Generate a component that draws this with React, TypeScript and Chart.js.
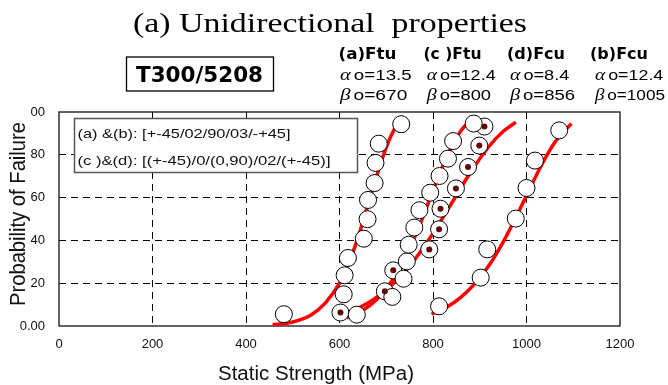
import { useEffect, useRef } from 'react';
import { Chart, registerables } from 'chart.js';

Chart.register(...registerables);

// ---------- data ----------
const xTickLabels = ['0', '200', '400', '600', '800', '1000', '1200'];
const yTickLabels = ['0.00', '20', '40', '60', '80', '00'];

// fitted Weibull curves
const curveA_x = [457, 500, 540, 570, 600, 620, 640, 660, 680, 700, 720, 738];
const curveA_p = [0.6, 1.9, 5.3, 10.8, 20, 29.5, 41.6, 55.8, 70.4, 83.5, 92.9, 97.4];
const curveC_x = [615, 650, 680, 710, 740, 770, 800, 830, 860, 890];
const curveC_p = [3.8, 7.3, 12.5, 20.4, 31.6, 46.3, 63.2, 79.4, 91.4, 97.6];
const curveD_x = [605, 640, 680, 720, 760, 800, 840, 880, 920, 950, 977];
const curveD_p = [5.3, 8.3, 13.5, 20.9, 30.8, 43.3, 57.4, 71.7, 84, 90.9, 95.2];
const curveB_x = [797, 830, 860, 890, 920, 950, 980, 1005, 1030, 1060, 1096];
const curveB_p = [5.5, 8.9, 13.5, 19.9, 28.4, 39.2, 51.9, 63.2, 74.3, 85.6, 94.6];

// test points
const ptsA_x = [481, 609, 611, 618, 652, 660, 661, 675, 677, 684, 732];
const ptsA_p = [5.5, 14.8, 23.7, 31.8, 40.8, 49.9, 58.9, 66.8, 76.2, 85.2, 94.3];
const ptsC_x = [637, 713, 737, 744, 748, 760, 771, 794, 814, 832, 843, 887];
const ptsC_p = [5.3, 13.6, 22.1, 30.2, 38, 46, 54.1, 62.3, 70.1, 78.2, 86.4, 94.6];
const ptsD_x = [602, 697, 715, 792, 813, 816, 849, 875, 899, 910];
const ptsD_p = [6.3, 16.2, 26, 35.8, 45.2, 54.8, 64.3, 74.3, 84.3, 93.2];
const ptsB_x = [813, 902, 916, 977, 1000, 1018, 1070];
const ptsB_p = [9.2, 22.6, 35.8, 50.2, 64.5, 77.3, 91.4];

// header texts
const chartTitle = '(a) Unidirectional  properties';
const materialLabel = 'T300/5208';
const seriesNames = ['(a)Ftu', '(c )Ftu', '(d)Fcu', '(b)Fcu'];
const alphaValues = ['13.5', '12.4', '8.4', '12.4'];
const betaValues = ['670', '800', '856', '1005'];
const layupLines = ['(a) &(b): [+-45/02/90/03/-+45]', '(c )&(d): [(+-45)/0/(0,90)/02/(+-45)]'];
const xTitle = 'Static Strength (MPa)';
const yTitle = 'Probability of Failure';

const zip = (xs: number[], ys: number[]) => xs.map((x, i) => ({ x, y: ys[i] }));

const SANS = '"Liberation Sans", Arial, sans-serif';
const BOLD = '"DejaVu Sans", "Liberation Sans", Arial, sans-serif';
const SERIF = '"Liberation Serif", "Times New Roman", serif';

function fitText(ctx: CanvasRenderingContext2D, text: string, x: number, y: number, font: string, width: number) {
  ctx.save();
  ctx.font = font;
  const w = ctx.measureText(text).width;
  ctx.translate(x, y);
  ctx.scale(width / w, 1);
  ctx.textAlign = 'left';
  ctx.textBaseline = 'alphabetic';
  ctx.fillText(text, 0, 0);
  ctx.restore();
}

function fitGreek(ctx: CanvasRenderingContext2D, greek: string, rest: string, x: number, y: number, width: number) {
  const gFont = 'italic 17px ' + SERIF;
  const rFont = '15.5px ' + SANS;
  ctx.save();
  ctx.font = gFont;
  const gw = ctx.measureText(greek).width;
  ctx.font = rFont;
  const rw = ctx.measureText(rest).width;
  const gap = 2.5;
  const total = gw + gap + rw;
  ctx.translate(x, y);
  ctx.scale(width / total, 1);
  ctx.textAlign = 'left';
  ctx.textBaseline = 'alphabetic';
  ctx.font = gFont;
  ctx.fillText(greek, 0, 0);
  ctx.font = rFont;
  ctx.fillText(rest, gw + gap, 0);
  ctx.restore();
}

const annotations = {
  id: 'annotations',
  beforeDraw(chart: any) {
    const { ctx, width, height } = chart;
    ctx.save();
    ctx.fillStyle = '#fff';
    ctx.fillRect(0, 0, width, height);
    ctx.restore();
  },
  beforeDatasetsDraw(chart: any) {
    const { ctx, chartArea: a } = chart;
    ctx.save();
    // plot frame
    ctx.strokeStyle = '#222';
    ctx.lineWidth = 1.4;
    ctx.strokeRect(a.left, a.top, a.right - a.left, a.bottom - a.top);
    // layup legend box
    ctx.fillStyle = '#fff';
    ctx.fillRect(74, 118.5, 283, 54);
    ctx.strokeStyle = '#555';
    ctx.lineWidth = 1.5;
    ctx.strokeRect(74.5, 118.5, 283, 54);
    ctx.fillStyle = '#111';
    fitText(ctx, layupLines[0], 77.5, 137.5, '13.5px ' + SANS, 213);
    fitText(ctx, layupLines[1], 77.5, 165, '13.5px ' + SANS, 253);
    ctx.restore();
  },
  afterDraw(chart: any) {
    const { ctx } = chart;
    ctx.save();
    ctx.fillStyle = '#000';
    // title
    fitText(ctx, chartTitle, 133, 32, '28px ' + SERIF, 394);
    // material box
    ctx.strokeStyle = '#000';
    ctx.lineWidth = 1.3;
    ctx.strokeRect(126.5, 57, 147, 34);
    fitText(ctx, materialLabel, 136, 82.3, 'bold 21.5px ' + BOLD, 127);
    // parameter columns
    const colX = [338.5, 423.5, 507, 590];
    const aX = [340, 426.7, 510, 595];
    const aW = [71.7, 69, 59.3, 68.3];
    const bW = [67.3, 64.3, 65, 70];
    seriesNames.forEach((n, i) => {
      fitText(ctx, n, colX[i], 58.5, 'bold 15px ' + BOLD, 58);
      fitGreek(ctx, 'α', 'o=' + alphaValues[i], aX[i], 80, aW[i]);
      fitGreek(ctx, 'β', 'o=' + betaValues[i], aX[i], 99.5, bW[i]);
    });
    // axis titles
    ctx.fillStyle = '#111';
    ctx.font = '20px ' + SANS;
    const xw = ctx.measureText(xTitle).width;
    ctx.save();
    ctx.translate(316 - 98, 380);
    ctx.scale(196 / xw, 1);
    ctx.fillText(xTitle, 0, 0);
    ctx.restore();
    const yw = ctx.measureText(yTitle).width;
    ctx.save();
    ctx.translate(25, 214);
    ctx.rotate(-Math.PI / 2);
    ctx.scale(184 / yw, 1.12);
    ctx.textAlign = 'left';
    ctx.fillText(yTitle, -yw / 2, 0);
    ctx.restore();
    ctx.restore();
  },
};

export default function App() {
  const ref = useRef<HTMLCanvasElement>(null);
  useEffect(() => {
    const canvas = ref.current;
    if (!canvas) return;
    const curve = (xs: number[], ps: number[]) => ({
      type: 'scatter' as const,
      data: zip(xs, ps),
      showLine: true,
      borderColor: '#ff0000',
      borderWidth: 3.5,
      pointRadius: 0,
      cubicInterpolationMode: 'monotone' as const,
      order: 3,
    });
    const circles = (xs: number[], ps: number[]) => ({
      type: 'scatter' as const,
      data: zip(xs, ps),
      showLine: false,
      pointRadius: 8.5,
      pointBackgroundColor: '#ffffff',
      pointBorderColor: '#000000',
      pointBorderWidth: 1,
      order: 2,
    });
    const gridColor = (c: any) =>
      c.tick && (c.index === 0 || c.index === c.scale.ticks.length - 1) ? 'rgba(0,0,0,0)' : '#000';
    const chart = new Chart(canvas, {
      type: 'scatter',
      data: {
        datasets: [
          {
            type: 'scatter',
            data: zip(ptsD_x, ptsD_p),
            pointRadius: 3,
            pointBackgroundColor: '#5e0808',
            pointBorderWidth: 0,
            order: 1,
          } as any,
          circles(ptsA_x, ptsA_p),
          circles(ptsC_x, ptsC_p),
          circles(ptsD_x, ptsD_p),
          circles(ptsB_x, ptsB_p),
          curve(curveA_x, curveA_p),
          curve(curveC_x, curveC_p),
          curve(curveD_x, curveD_p),
          curve(curveB_x, curveB_p),
        ],
      },
      options: {
        responsive: false,
        animation: false,
        devicePixelRatio: 1,
        layout: { padding: { top: 112, right: 48, left: 0, bottom: 0 } },
        plugins: { legend: { display: false }, tooltip: { enabled: false }, title: { display: false } },
        events: [],
        scales: {
          x: {
            type: 'linear',
            min: 0,
            max: 1200,
            afterFit: (s: any) => { s.height = 59; },
            afterBuildTicks: (s: any) => { s.ticks = xTickLabels.map((t) => ({ value: Number(t) })); },
            ticks: {
              callback: (_v: any, i: number) => xTickLabels[i],
              font: { family: SANS, size: 13 },
              color: '#111',
              padding: 11,
              maxRotation: 0,
            },
            grid: { color: gridColor, lineWidth: 1, drawTicks: false },
            border: { display: false, dash: [7, 5] },
          },
          y: {
            type: 'linear',
            min: 0,
            max: 100,
            afterFit: (s: any) => { s.width = 59; },
            afterBuildTicks: (s: any) => { s.ticks = yTickLabels.map((_t, i) => ({ value: i * 20 })); },
            ticks: {
              callback: (_v: any, i: number) => yTickLabels[i],
              font: { family: SANS, size: 13 },
              color: '#111',
              padding: 14,
            },
            grid: { color: gridColor, lineWidth: 1, drawTicks: false },
            border: { display: false, dash: [7, 5] },
          },
        },
      } as any,
      plugins: [annotations],
    });
    return () => chart.destroy();
  }, []);
  return (
    <div style={{ position: 'fixed', left: 0, top: 0, width: 668, height: 385, background: '#fff' }}>
      <canvas ref={ref} width={668} height={385} style={{ display: 'block' }} />
    </div>
  );
}
